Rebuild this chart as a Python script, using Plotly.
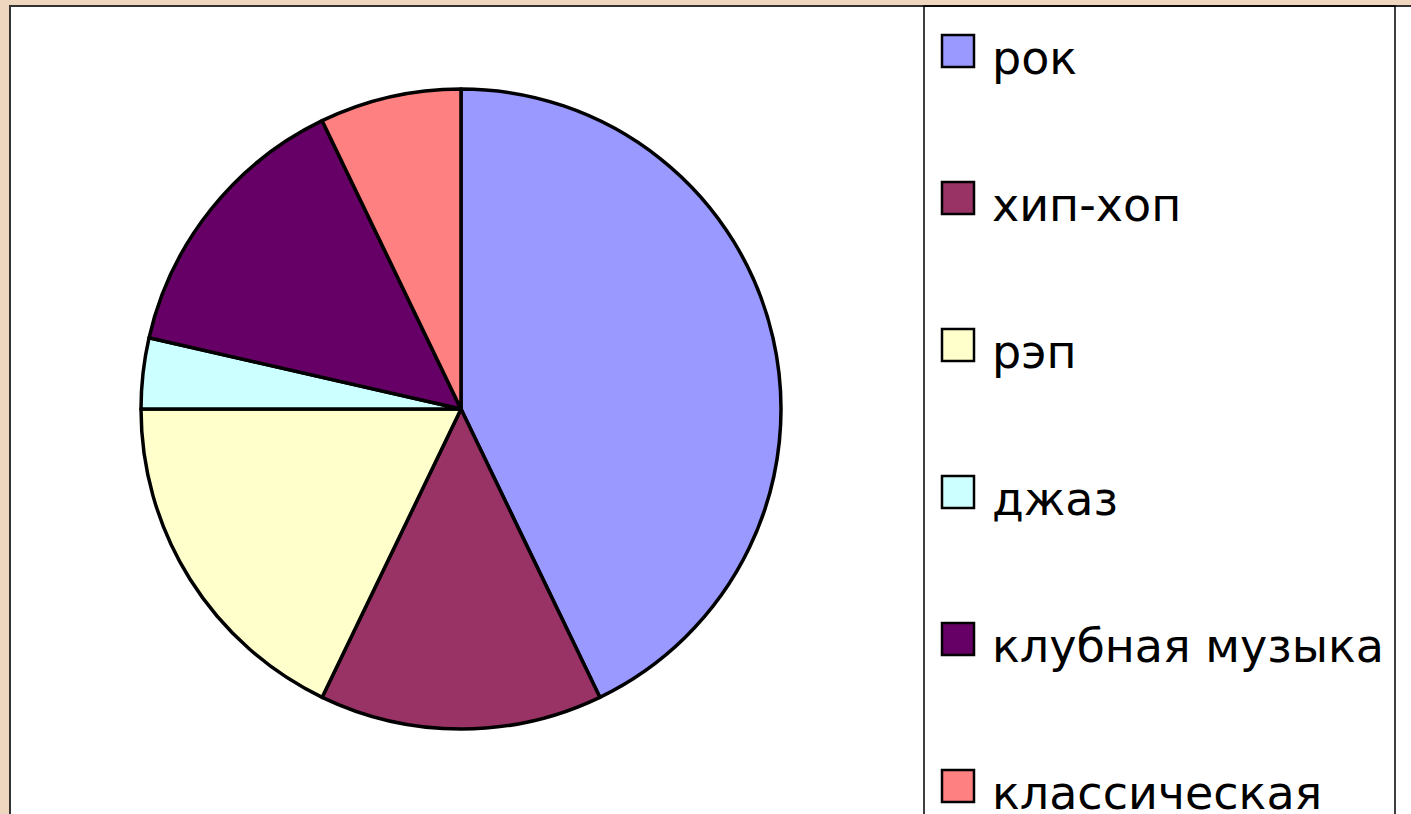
import plotly.graph_objects as go

# Data
categories = ["рок", "хип-хоп", "рэп", "джаз", "клубная музыка", "классическая"]
values = [12, 4, 5, 1, 4, 2]
colors = ["#9999FF", "#993366", "#FFFFCC", "#CCFFFF", "#660066", "#FF8080"]

W, H = 1411, 814
BG = "#EFD7BF"

def px(x):
    return x / W

def py(y):
    return 1 - y / H

fig = go.Figure()

fig.add_trace(go.Pie(
    labels=categories,
    values=values,
    marker=dict(colors=colors, line=dict(color="#000000", width=3.5)),
    sort=False,
    direction="clockwise",
    rotation=0,
    textinfo="none",
    showlegend=False,
    domain=dict(x=[px(141), px(781)], y=[py(729), py(89)]),
))

shapes = []
# white chart area with border
shapes.append(dict(type="rect", xref="paper", yref="paper",
                   x0=px(10), x1=px(1430), y0=py(840), y1=py(6),
                   fillcolor="#FFFFFF", line=dict(color="#333333", width=2), layer="below"))
# legend box
shapes.append(dict(type="rect", xref="paper", yref="paper",
                   x0=px(924), x1=px(1395), y0=py(840), y1=py(6),
                   fillcolor="rgba(0,0,0,0)", line=dict(color="#000000", width=1.5), layer="below"))

annotations = []
item_y0 = 51
item_step = 147
for i, (lab, col) in enumerate(zip(categories, colors)):
    cy = item_y0 + i * item_step
    shapes.append(dict(type="rect", xref="paper", yref="paper",
                       x0=px(942), x1=px(974), y0=py(cy + 16), y1=py(cy - 16),
                       fillcolor=col, line=dict(color="#000000", width=2.5)))
    annotations.append(dict(text=lab, xref="paper", yref="paper",
                            x=px(990), y=py(cy + 7), xanchor="left", yanchor="middle",
                            showarrow=False,
                            font=dict(family="DejaVu Sans", size=46, color="#000000")))

fig.update_layout(
    width=W, height=H,
    margin=dict(l=0, r=0, t=0, b=0),
    paper_bgcolor=BG,
    plot_bgcolor="#FFFFFF",
    shapes=shapes,
    annotations=annotations,
    showlegend=False,
)

fig.write_html(
    "out.html",
    config={"displayModeBar": False},
    post_script="document.body.style.margin='0';document.body.style.background='" + BG + "';document.body.style.overflow='hidden';",
)
